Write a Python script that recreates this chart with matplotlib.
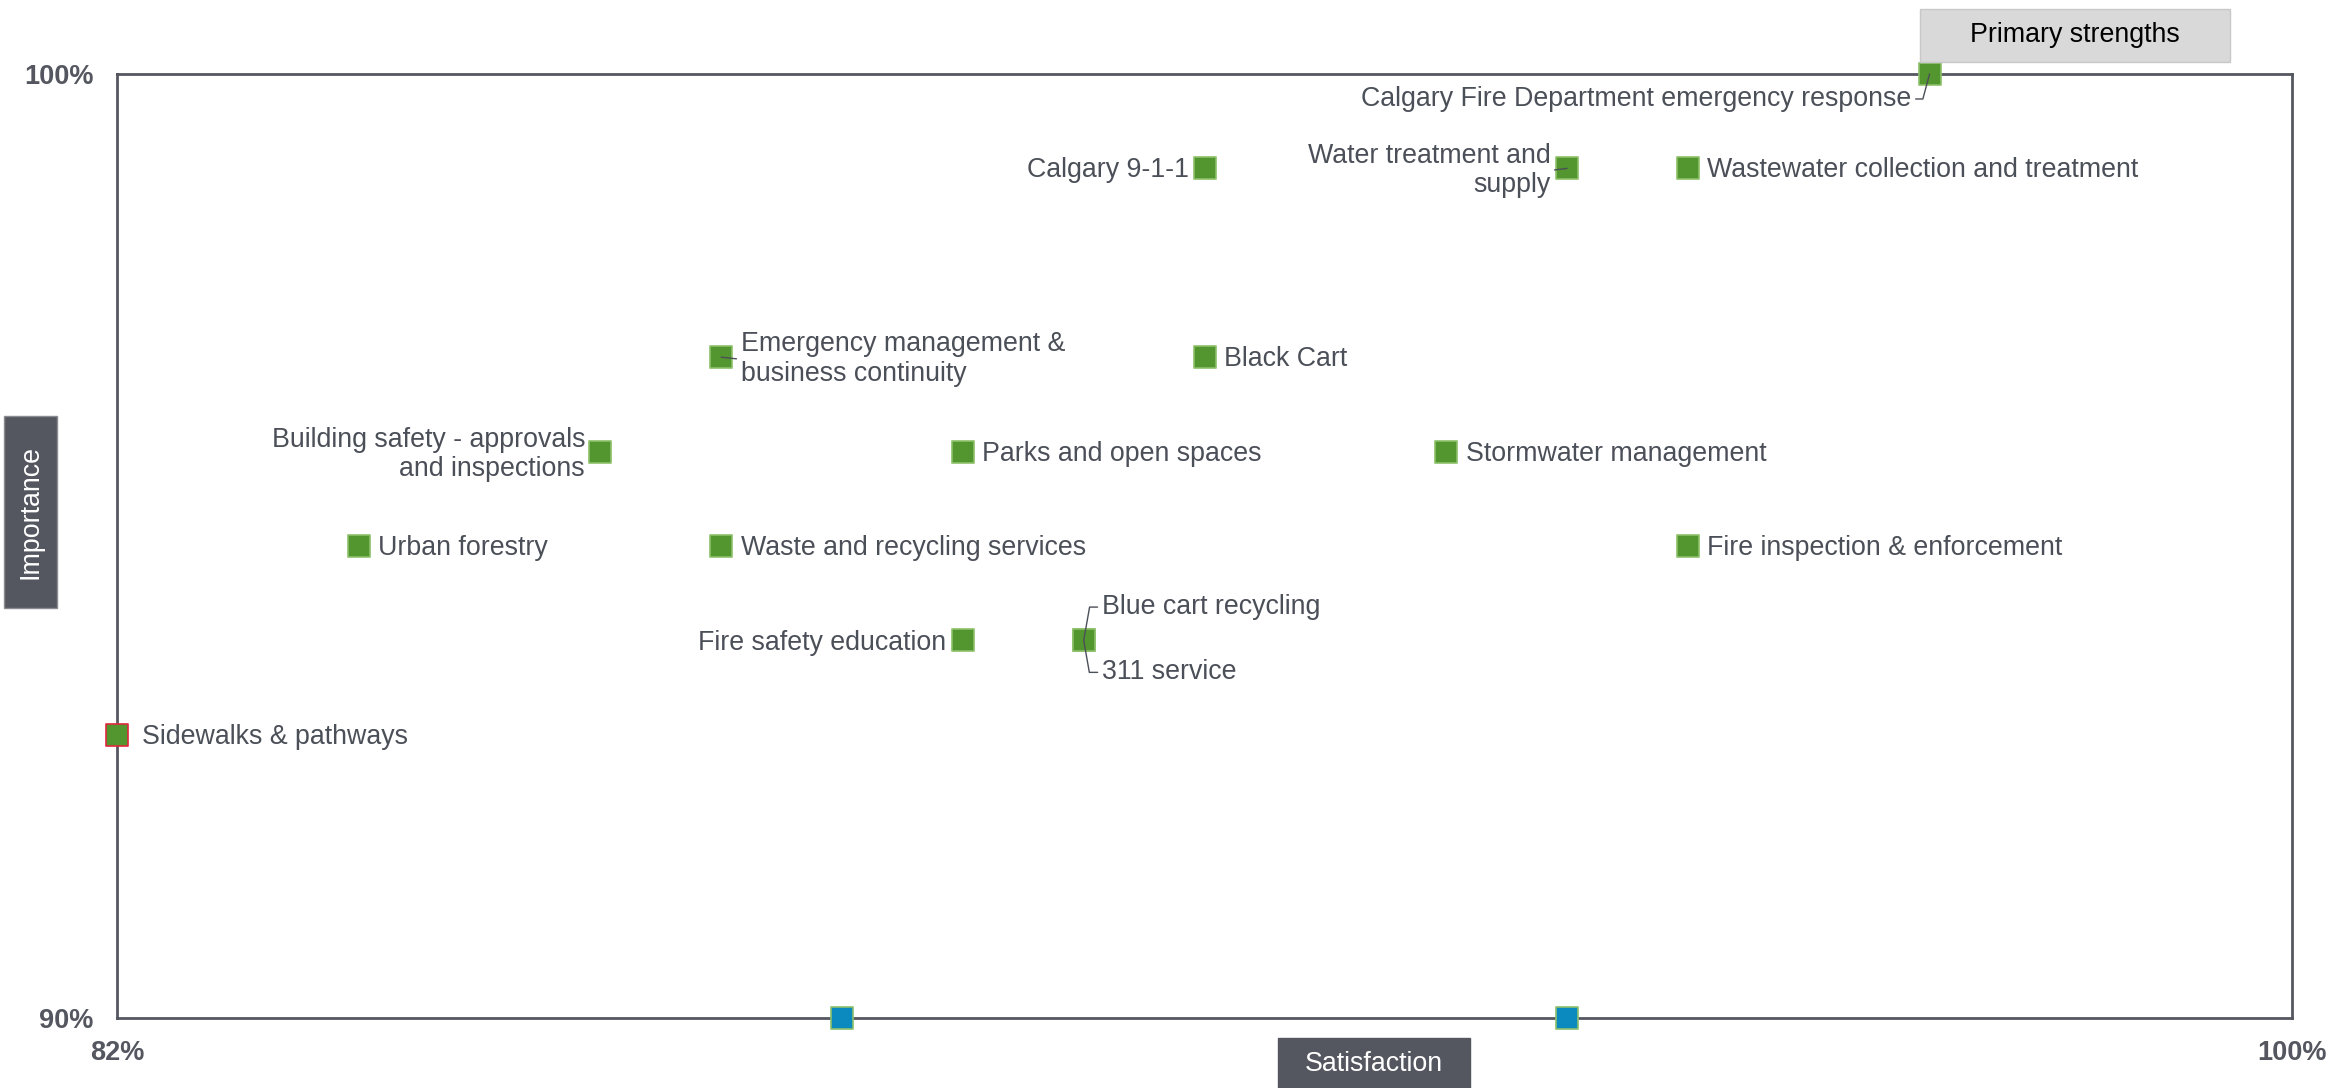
import matplotlib
matplotlib.use("Agg")
import matplotlib.pyplot as plt
from matplotlib.patches import Rectangle

plt.rcParams['font.family'] = ['Liberation Sans', 'DejaVu Sans']

# service satisfaction vs importance (%)
services = ["Calgary Fire Department emergency response", "Calgary 9-1-1",
            "Water treatment and\nsupply", "Wastewater collection and treatment",
            "Emergency management &\nbusiness continuity", "Black Cart",
            "Building safety - approvals\nand inspections", "Parks and open spaces",
            "Stormwater management", "Urban forestry", "Waste and recycling services",
            "Fire inspection & enforcement", "Fire safety education",
            "Blue cart recycling", "311 service", "Sidewalks & pathways"]
satisfaction = [97, 91, 94, 95, 87, 91, 86, 89, 93, 84, 87, 95, 89, 90, 90, 82]
importance = [100, 99, 99, 99, 97, 97, 96, 96, 96, 95, 95, 95, 94, 94, 94, 93]

# reference markers on the x axis
ref_sat = [88, 94]
ref_imp = [90, 90]

x_ticks = [82, 100]
y_ticks = [90, 100]

GREEN = '#53952f'
GREEN_EDGE = '#8cc06a'
BLUE = '#0a8abf'
RED = '#e0283c'
DARK = '#54575f'
TXT = '#4b4f58'
FS = 19.3

# label placement: (dx, dy) in points, alignment, leader style
layout = {
    "Calgary Fire Department emergency response": (-13, -18, 'right', 'angle,angleA=0,angleB=75'),
    "Calgary 9-1-1": (-11, -1.5, 'right', None),
    "Water treatment and\nsupply": (-12, -1.5, 'right', 'arc3'),
    "Wastewater collection and treatment": (14, -1.5, 'left', None),
    "Emergency management &\nbusiness continuity": (14, -1.5, 'left', 'arc3'),
    "Black Cart": (14, -1.5, 'left', None),
    "Building safety - approvals\nand inspections": (-11, -2, 'right', None),
    "Parks and open spaces": (14, -1.5, 'left', None),
    "Stormwater management": (14, -1.5, 'left', None),
    "Urban forestry": (14, -1.5, 'left', None),
    "Waste and recycling services": (14, -1.5, 'left', None),
    "Fire inspection & enforcement": (14, -1.5, 'left', None),
    "Fire safety education": (-12, -1.5, 'right', None),
    "Blue cart recycling": (13, 24, 'left', 'angle,angleA=0,angleB=80'),
    "311 service": (13, -23, 'left', 'angle,angleA=0,angleB=-80'),
    "Sidewalks & pathways": (18, -1.5, 'left', None),
}

fig = plt.figure(figsize=(23.31, 10.88), dpi=100)
ax = fig.add_axes([0.0502, 0.0643, 0.9331, 0.8677])

edges = [RED if s == "Sidewalks & pathways" else GREEN_EDGE for s in services]
ax.scatter(satisfaction, importance, marker='s', s=250, c=GREEN, edgecolors=edges,
           linewidths=1.2, zorder=5, clip_on=False)
ax.scatter(ref_sat, ref_imp, marker='s', s=250, c=BLUE, edgecolors=GREEN_EDGE,
           linewidths=1.2, zorder=5, clip_on=False)

for name, x, y in zip(services, satisfaction, importance):
    dx, dy, ha, conn = layout[name]
    arrow = None
    if conn:
        arrow = dict(arrowstyle='-', color=TXT, lw=1.0, shrinkA=1, shrinkB=0,
                     connectionstyle=conn, relpos=(0 if ha == 'left' else 1, 0.5))
    ax.annotate(name, (x, y), xytext=(dx, dy), textcoords='offset points',
                ha=ha, va='center', fontsize=FS, color=TXT, linespacing=1.18,
                arrowprops=arrow, zorder=6, annotation_clip=False)

ax.set_xlim(82, 100)
ax.set_ylim(90, 100)
ax.set_xticks(x_ticks)
ax.set_xticklabels([f"{v}%" for v in x_ticks])
ax.set_yticks(y_ticks)
ax.set_yticklabels([f"{v}%" for v in y_ticks])
ax.tick_params(length=0, labelsize=19.5, labelcolor=DARK)
ax.tick_params(axis='x', pad=16)
ax.tick_params(axis='y', pad=17)
for lab in ax.get_xticklabels() + ax.get_yticklabels():
    lab.set_fontweight('bold')
for sp in ax.spines.values():
    sp.set_color(DARK)
    sp.set_linewidth(2)

W, H = 2331, 1088

def box(x0, y0, x1, y1, fc, ec, text, tc, rot=0):
    fig.patches.append(Rectangle((x0 / W, 1 - y1 / H), (x1 - x0) / W, (y1 - y0) / H,
                                 transform=fig.transFigure, fc=fc, ec=ec, lw=1))
    fig.text((x0 + x1) / 2 / W, 1 - (y0 + y1) / 2 / H, text, ha='center', va='center',
             color=tc, fontsize=FS, rotation=rot)

box(1920, 9, 2230, 62, '#d9d9d9', '#c8c8c8', "Primary strengths", 'black')
box(1278, 1038, 1470, 1090, DARK, DARK, "Satisfaction", 'white')
box(4, 416, 57, 608, DARK, '#8a8c92', "Importance", 'white', rot=90)

fig.savefig("out.png", dpi=100)
